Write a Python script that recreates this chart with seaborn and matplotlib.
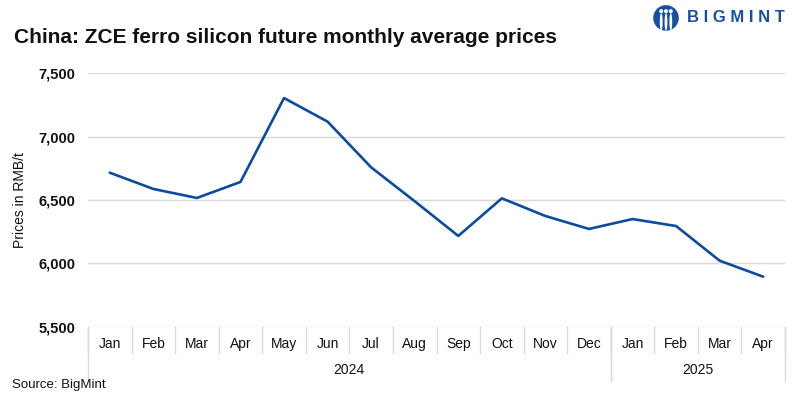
import matplotlib
matplotlib.use("Agg")
import matplotlib.pyplot as plt
import matplotlib.transforms as mtransforms
from matplotlib.patches import Ellipse
import pandas as pd
import seaborn as sns

# Datos
months = ["Jan", "Feb", "Mar", "Apr", "May", "Jun", "Jul", "Aug", "Sep", "Oct", "Nov", "Dec",
          "Jan", "Feb", "Mar", "Apr"]
years = ["2024"] * 12 + ["2025"] * 4
prices = [6715, 6587, 6516, 6642, 7303, 7117, 6757, 6490, 6217, 6513, 6374, 6272,
          6350, 6295, 6022, 5896]
yticks = [5500, 6000, 6500, 7000, 7500]

sns.set_theme(style="white")
plt.rcParams["font.family"] = ["Liberation Sans", "DejaVu Sans"]

df = pd.DataFrame({"pos": range(len(months)), "month": months, "year": years, "price": prices})

fig = plt.figure(figsize=(8, 3.99), dpi=100)
ax = fig.add_axes([0.11, 0.1805, 0.87125, 0.6365])

sns.lineplot(data=df, x="pos", y="price", color="#0b4c9f", linewidth=1.9, ax=ax)

grid_c = "#d9d9d9"
ax.set_xlim(-0.5, len(months) - 0.5)
ax.set_ylim(yticks[0], yticks[-1])
ax.set_yticks(yticks)
ax.set_yticklabels([f"{v:,}" for v in yticks], fontsize=10.5, fontweight="bold", color="#111111")
ax.tick_params(axis="y", length=0, pad=9)
ax.set_xticks([])
for v in yticks:
    ax.axhline(v, color=grid_c, linewidth=1, zorder=0)
for s in ax.spines.values():
    s.set_visible(False)
ax.set_xlabel("")
ax.set_ylabel("Prices in RMB/t", fontsize=10, color="#111111", labelpad=8)

# Eje de categorías en dos niveles
trans = mtransforms.blended_transform_factory(ax.transData, ax.transAxes)
for i, m in enumerate(months):
    ax.text(i, -0.067, m, transform=trans, ha="center", va="center", fontsize=10, color="#111111")
for i in range(len(months) + 1):
    ax.plot([i - 0.5, i - 0.5], [0, -0.102], transform=trans, color=grid_c, linewidth=1, clip_on=False)

year_list = list(dict.fromkeys(years))
start = 0
for y in year_list:
    n = years.count(y)
    ax.text(start + (n - 1) / 2, -0.169, y, transform=trans, ha="center", va="center",
            fontsize=10, color="#111111")
    for b in (start - 0.5, start + n - 0.5):
        ax.plot([b, b], [0, -0.213], transform=trans, color=grid_c, linewidth=1, clip_on=False)
    start += n

fig.text(0.0175, 0.905, "China: ZCE ferro silicon future monthly average prices",
         fontsize=15, fontweight="bold", color="#111111", ha="left", va="center")
fig.text(0.015, 0.035, "Source: BigMint", fontsize=9.5, color="#111111", ha="left", va="center")

# Logo
logo_c = "#1750a3"
asp = 800 / 399
fig.text(0.859, 0.955, "B I G M I N T", fontsize=12, fontweight="bold", color=logo_c,
         ha="left", va="center")
fig.patches.append(Ellipse((0.8325, 0.955), 0.032, 0.032 * asp, transform=fig.transFigure,
                           facecolor=logo_c, edgecolor="none"))
for dx in (-0.006, 0.0, 0.006):
    fig.patches.append(Ellipse((0.8325 + dx, 0.972), 0.005, 0.005 * asp,
                               transform=fig.transFigure, facecolor="white", edgecolor="none"))
    fig.patches.append(Ellipse((0.8325 + dx, 0.945), 0.0035, 0.022 * asp,
                               transform=fig.transFigure, facecolor="white", edgecolor="none"))

fig.savefig("out.png", dpi=100)
